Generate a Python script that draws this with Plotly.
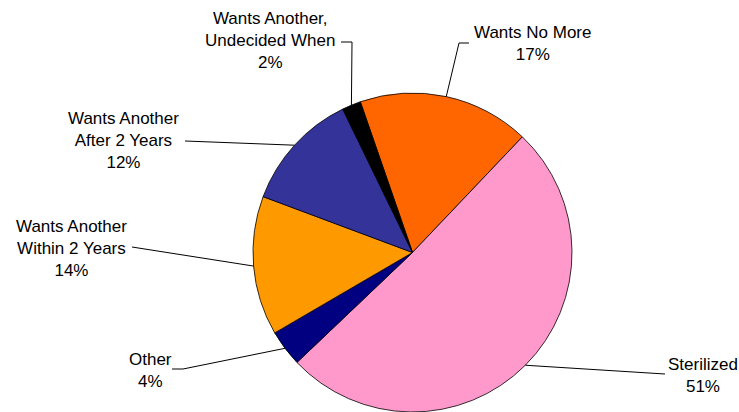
import math
import plotly.graph_objects as go

# ---- data ----
categories = ["Wants No More", "Sterilized", "Other",
              "Wants Another<br>Within 2 Years", "Wants Another<br>After 2 Years",
              "Wants Another,<br>Undecided When"]
values = [17.4, 50.8, 3.7, 14.1, 12.1, 1.9]
colors = ["#FF6600", "#FF99CC", "#000080", "#FF9900", "#333399", "#000000"]

# ---- layout / label placement (pixels) ----
W, H = 739, 412
start_angle = -19.1  # degrees clockwise from 12 o'clock
dom_x = [253 / W, 572 / W]
dom_y = [0.0, 319 / H]
label_center = [(532, 44), (703, 375), (150, 370.5), (71, 249), (123, 140), (270, 41)]
elbows = [[(459, 43), (469, 43)], [(665, 374)], [(183, 369), (172, 369)],
          [(132, 247)], [(185, 141)], [(352, 42), (341, 42)]]

cx = (dom_x[0] + dom_x[1]) / 2 * W
cy = H - (dom_y[0] + dom_y[1]) / 2 * H
r = min((dom_x[1] - dom_x[0]) * W, (dom_y[1] - dom_y[0]) * H) / 2

fig = go.Figure(go.Pie(
    labels=categories, values=values, sort=False, direction="clockwise",
    rotation=start_angle, marker=dict(colors=colors, line=dict(color="black", width=0.8)),
    textinfo="none", hoverinfo="label+percent", showlegend=False,
    domain=dict(x=dom_x, y=dom_y),
))

def px(x, y):
    return x / W, 1 - y / H

total = sum(values)
acc = 0.0
annotations = []
shapes = []
for i, (cat, v) in enumerate(zip(categories, values)):
    mid = start_angle + (acc + v / 2) / total * 360
    acc += v
    a = math.radians(mid)
    sx, sy = cx + r * math.sin(a), cy - r * math.cos(a)
    pts = [(sx, sy)] + elbows[i]
    path = "M " + " L ".join(f"{px(x, y)[0]} {px(x, y)[1]}" for x, y in pts)
    shapes.append(dict(type="path", xref="paper", yref="paper", path=path,
                       line=dict(color="black", width=1)))
    pct = round(v / total * 100)
    lx, ly = px(*label_center[i])
    annotations.append(dict(x=lx, y=ly, xref="paper", yref="paper",
                            text=f"{cat}<br>{pct}%", showarrow=False, align="center",
                            xanchor="center", yanchor="middle",
                            font=dict(family="Liberation Sans, Arial", size=17, color="black")))

fig.update_layout(width=W, height=H, margin=dict(l=0, r=0, t=0, b=0),
                  paper_bgcolor="white", plot_bgcolor="white",
                  annotations=annotations, shapes=shapes)
fig.write_html("out.html")
